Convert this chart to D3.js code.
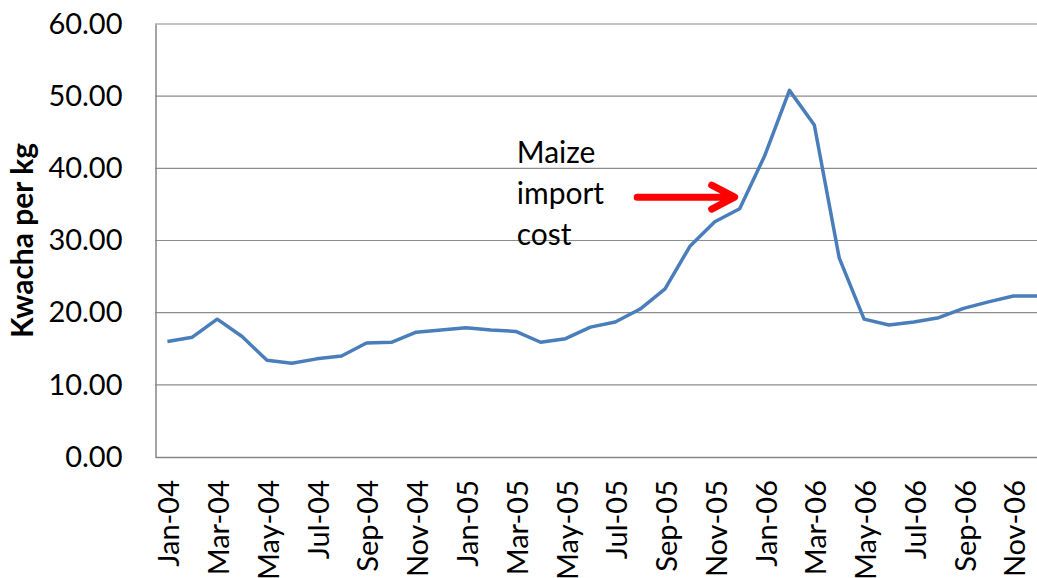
<!DOCTYPE html>
<html>
<head>
  <script src="https://d3js.org/d3.v7.min.js"></script>
  <style>
    body { margin: 0; background: #fff; }
    text { font-family: Lato, "Open Sans", sans-serif; fill: #000; }
  </style>
</head>
<body>
<svg width="1037" height="578">
  <g id="grid"/>
  <g id="axes"/>
  <g id="series"/>
  <g id="notes"/>
</svg>
<script>
  // monthly maize price, Kwacha per kg
  let months = ["Jan-04", "Feb-04", "Mar-04", "Apr-04", "May-04", "Jun-04", "Jul-04", "Aug-04", "Sep-04", "Oct-04", "Nov-04", "Dec-04",
    "Jan-05", "Feb-05", "Mar-05", "Apr-05", "May-05", "Jun-05", "Jul-05", "Aug-05", "Sep-05", "Oct-05", "Nov-05", "Dec-05",
    "Jan-06", "Feb-06", "Mar-06", "Apr-06", "May-06", "Jun-06", "Jul-06", "Aug-06", "Sep-06", "Oct-06", "Nov-06", "Dec-06"];
  let prices = [16.0, 16.6, 19.1, 16.7, 13.4, 13.0, 13.6, 14.0, 15.8, 15.9, 17.3, 17.6,
    17.9, 17.6, 17.4, 15.9, 16.4, 18.0, 18.7, 20.5, 23.3, 29.2, 32.6, 34.4,
    41.7, 50.8, 46.0, 27.6, 19.1, 18.3, 18.7, 19.3, 20.6, 21.5, 22.3, 22.3];
  let yTicks = [0, 10, 20, 30, 40, 50, 60];
  let labelMonths = months.filter((m, i) => i % 2 == 0);
  let noteLines = ["Maize", "import", "cost"];

  let width = 1037,
    height = 578,
    margins = { left: 155, top: 24, bottom: 121 },
    step = 24.88;

  let data = months.map((m, i) => ({ month: m, price: prices[i] }));

  let x = d3.scaleBand()
    .domain(months)
    .range([margins.left, margins.left + step * months.length]);
  let y = d3.scaleLinear()
    .domain([0, 60])
    .range([height - margins.bottom, margins.top]);
  let cx = m => x(m) + x.bandwidth() / 2;

  let svg = d3.select("svg");

  // gridlines
  svg.select("#grid").selectAll("line")
    .data(yTicks.filter(t => t > 0)).enter()
    .append("line")
    .attr("x1", margins.left).attr("x2", width)
    .attr("y1", d => y(d)).attr("y2", d => y(d))
    .attr("stroke", "#8c8c8c").attr("stroke-width", 1.2);

  // axes
  let yAxis = svg.select("#axes").append("g")
    .attr("transform", `translate(${margins.left + 0.5}, 0)`)
    .call(d3.axisLeft(y).tickValues(yTicks).tickSize(0).tickPadding(33).tickFormat(d3.format(".2f")));
  yAxis.select(".domain").attr("stroke", "#868686").attr("stroke-width", 1.5);
  yAxis.selectAll("text").attr("font-size", 29).attr("font-family", "Lato").attr("fill", "#000");

  let xAxis = svg.select("#axes").append("g")
    .attr("transform", `translate(0, ${y(0)})`)
    .call(d3.axisBottom(x).tickValues(labelMonths).tickSize(0));
  xAxis.select(".domain").attr("stroke", "#868686").attr("stroke-width", 1.5);
  xAxis.selectAll("text")
    .attr("font-size", 29).attr("font-family", "Lato").attr("fill", "#000")
    .attr("text-anchor", "end")
    .attr("transform", "translate(12, 23) rotate(-90)")
    .attr("x", 0).attr("y", 0).attr("dy", 0);

  // axis title
  svg.select("#axes").append("text")
    .text("Kwacha per kg")
    .attr("transform", `translate(33, ${(y(0) + y(60)) / 2}) rotate(-90)`)
    .attr("text-anchor", "middle")
    .attr("font-size", 30)
    .attr("font-weight", "bold");

  // price line
  svg.select("#series").append("path")
    .datum(data)
    .attr("fill", "none")
    .attr("stroke", "#4a7ebb")
    .attr("stroke-width", 3.5)
    .attr("stroke-linejoin", "round")
    .attr("d", d3.line().x(d => cx(d.month)).y(d => y(d.price)));

  // annotation
  let notes = svg.select("#notes");
  notes.selectAll("text")
    .data(noteLines).enter()
    .append("text")
    .attr("x", cx("Mar-05") + 1)
    .attr("y", (d, i) => y(40.8) + i * 41)
    .attr("font-size", 30)
    .text(d => d);

  let ax0 = cx("Aug-05") - 3, ax1 = cx("Dec-05") - 5, ay = y(36);
  notes.append("path")
    .attr("d", `M${ax0},${ay}H${ax1 - 2}M${ax1 - 23},${ay - 12}L${ax1},${ay}L${ax1 - 23},${ay + 12}`)
    .attr("fill", "none")
    .attr("stroke", "#ff0000")
    .attr("stroke-width", 7)
    .attr("stroke-linecap", "round")
    .attr("stroke-linejoin", "round");
</script>
</body>
</html>
